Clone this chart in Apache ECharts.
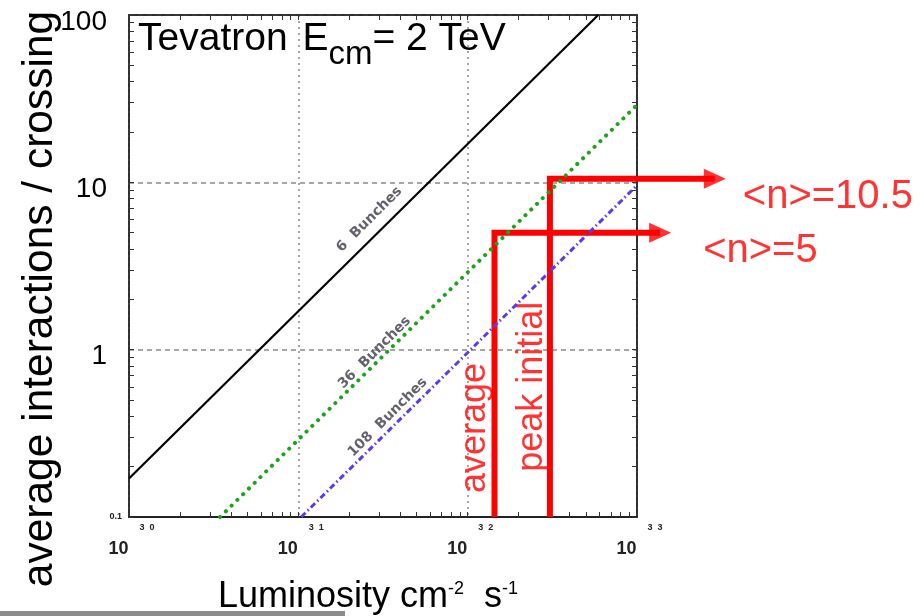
<!DOCTYPE html>
<html>
<head>
<meta charset="utf-8">
<script src="https://cdn.jsdelivr.net/npm/echarts@6/dist/echarts.min.js"></script>
<style>
  html, body { margin: 0; padding: 0; background: #fff; }
  #chart { width: 921px; height: 616px; }
</style>
</head>
<body>
<div id="chart"></div>
<script>
// Mean number of interactions per bunch crossing vs. instantaneous luminosity (Tevatron, 2 TeV)

// Axis ranges and tick labels
const xRange = [1e30, 1e33];
const yRange = [0.1, 100];
const xExponentLabels = ['3  0', '3  1', '3  2', '3  3'];
const yTickLabels = ['0.1', '1', '10', '100'];
const xMinorTicks = [
  1e30, 2e30, 3e30, 4e30, 5e30, 6e30, 7e30, 8e30, 9e30,
  1e31, 2e31, 3e31, 4e31, 5e31, 6e31, 7e31, 8e31, 9e31,
  1e32, 2e32, 3e32, 4e32, 5e32, 6e32, 7e32, 8e32, 9e32, 1e33
];
const yMinorTicks = [
  0.1, 0.2, 0.3, 0.4, 0.5, 0.6, 0.7, 0.8, 0.9,
  1, 2, 3, 4, 5, 6, 7, 8, 9,
  10, 20, 30, 40, 50, 60, 70, 80, 90, 100
];

// Bunch configurations: [luminosity (cm^-2 s^-1), interactions per crossing]
const bunches6 = [[1e30, 0.17], [5.9e32, 100]];
const bunches36 = [[3.45e30, 0.1], [1e33, 29]];
const bunches108 = [[1.04e31, 0.1], [1e33, 9.6]];
const bunchLabels = [
  [2.63e31, 6.0, '6  Bunches'],
  [2.82e31, 0.96, '36  Bunches'],
  [3.37e31, 0.394, '108  Bunches']
];

// Run II operating points: [luminosity, <n>, arrow end]
const averagePoint = [1.44e32, 5, 1.37e33];
const peakPoint = [3.06e32, 10.5, 2.88e33];
const operatingLabels = [
  [1.10e32, 0.34, 'average'],
  [2.39e32, 0.60, 'peak initial']
];

const FONT = '"Liberation Sans", Arial, Helvetica, sans-serif';
const RED = '#ff0000';

const chart = echarts.init(document.getElementById('chart'), null, { renderer: 'canvas' });

// Decade exponent of a tick value, used to pick its label
const decade = v => Math.round(Math.log10(v));

function tickAxis(position, values, range) {
  return {
    type: 'log', logBase: 10, min: range[0], max: range[1], position: position,
    axisLine: { show: true, lineStyle: { color: '#222', width: 1.5 } },
    axisTick: { show: true, inside: true, length: 5, customValues: values, lineStyle: { color: '#333', width: 1 } },
    axisLabel: { show: false },
    splitLine: { show: false }
  };
}

// L-shaped red marker: vertical line from the bottom of the plot up to <n>, then right to the arrow
function renderOperatingLine(params, api) {
  const lumi = api.value(0), n = api.value(1), end = api.value(2);
  const p0 = api.coord([lumi, yRange[0]]);
  const p1 = api.coord([lumi, n]);
  const p2 = api.coord([end, n]);
  return {
    type: 'polyline',
    shape: { points: [p0, p1, p2] },
    style: { stroke: RED, lineWidth: 6, fill: null, lineJoin: 'miter' },
    silent: true
  };
}

const option = {
  animation: false,
  backgroundColor: '#fff',
  grid: {
    left: 129, right: 284, top: 15, bottom: 99,
    outerBoundsMode: 'none',
    show: true, borderColor: '#222', borderWidth: 1.5, backgroundColor: 'transparent'
  },
  title: {
    left: 138, top: 20, padding: 0,
    text: '{a|Tevatron }{e|E}{s|cm}{a|= 2 TeV}',
    textStyle: {
      fontWeight: 'normal',
      rich: {
        a: { fontFamily: FONT, fontSize: 39, fontWeight: 'normal', color: '#000', lineHeight: 44, verticalAlign: 'top' },
        e: { fontFamily: FONT, fontSize: 39, fontWeight: 'normal', color: '#000', lineHeight: 44, verticalAlign: 'top', padding: [0, 0, 0, 4] },
        s: { fontFamily: FONT, fontSize: 33, fontWeight: 'normal', color: '#000', lineHeight: 33, verticalAlign: 'top', padding: [18, 0, 0, 0] }
      }
    }
  },
  xAxis: [
    {
      type: 'log', logBase: 10, min: xRange[0], max: xRange[1], position: 'bottom',
      axisLine: { show: true, lineStyle: { color: '#222', width: 2 } },
      axisTick: { show: false },
      axisLabel: {
        margin: 6,
        formatter: v => '{b|10}{e|' + xExponentLabels[decade(v) - decade(xRange[0])] + '}',
        rich: {
          b: { fontFamily: FONT, fontSize: 18, fontWeight: 'bold', color: '#222', lineHeight: 20, padding: [33, 0, 0, 5] },
          e: { fontFamily: FONT, fontSize: 9, fontWeight: 'bold', color: '#222', lineHeight: 9, verticalAlign: 'top', padding: [0, 0, 0, 11] }
        }
      },
      splitLine: { show: true, lineStyle: { color: '#8a8a8a', width: 1.5, type: [2, 4] } },
      name: '{a|Luminosity cm}{s|-2}{a|  s}{s|-1}',
      nameLocation: 'middle',
      nameGap: 60,
      nameTextStyle: {
        padding: [0, 30, 0, 0],
        rich: {
          a: { fontFamily: FONT, fontSize: 36, color: '#000', lineHeight: 40 },
          s: { fontFamily: FONT, fontSize: 18, color: '#000', lineHeight: 18, padding: [0, 0, 16, 0] }
        }
      }
    },
    tickAxis('top', xMinorTicks, xRange),
    Object.assign(tickAxis('bottom', xMinorTicks, xRange), { axisLine: { show: false } })
  ],
  yAxis: [
    {
      type: 'log', logBase: 10, min: yRange[0], max: yRange[1], position: 'left',
      axisLine: { show: true, lineStyle: { color: '#222', width: 1.5 } },
      axisTick: { show: false },
      axisLabel: {
        margin: 7,
        formatter: v => {
          const label = yTickLabels[decade(v) - decade(yRange[0])];
          return (label === yTickLabels[0] ? '{s|' : '{l|') + label + '}';
        },
        rich: {
          l: { fontFamily: FONT, fontSize: 28, color: '#000', padding: [14, 15, 0, 0] },
          s: { fontFamily: FONT, fontSize: 9, fontWeight: 'bold', color: '#222' }
        }
      },
      splitLine: { show: true, lineStyle: { color: '#8a8a8a', width: 1.5, type: [5, 4] } },
      name: 'average interactions / crossing',
      nameLocation: 'middle',
      nameGap: 67,
      nameMoveOverlap: false,
      nameTextStyle: { fontFamily: FONT, fontSize: 42.5, color: '#000', padding: [0, 66, 0, 0] }
    },
    tickAxis('right', yMinorTicks, yRange),
    Object.assign(tickAxis('left', yMinorTicks, yRange), { axisLine: { show: false } })
  ],
  series: [
    {
      name: '6 Bunches', type: 'line', data: bunches6, symbol: 'none',
      lineStyle: { color: '#000', width: 2.2 }
    },
    {
      name: '36 Bunches', type: 'line', data: bunches36, symbol: 'none',
      lineStyle: { color: '#1fa31f', width: 4, type: [0.1, 8], cap: 'round' }
    },
    {
      name: '108 Bunches', type: 'line', data: bunches108, symbol: 'none',
      lineStyle: { color: '#5a3cf0', width: 3, type: [6, 3, 1.5, 3] }
    },
    {
      name: 'bunch labels', type: 'scatter', data: bunchLabels,
      symbolSize: 1, itemStyle: { color: 'transparent' }, silent: true,
      label: {
        show: true, position: 'inside', rotate: 45,
        formatter: p => p.value[2],
        fontFamily: '"DejaVu Sans", sans-serif', fontWeight: 'bold', fontSize: 14, color: '#3c3c48'
      }
    },
    {
      name: 'operating points', type: 'custom', clip: false,
      data: [averagePoint, peakPoint],
      renderItem: renderOperatingLine
    },
    {
      name: 'arrow heads', type: 'scatter', clip: false,
      data: [
        { value: [averagePoint[2], averagePoint[1]], label: { distance: 32 } },
        { value: [peakPoint[2], peakPoint[1]], label: { distance: 17 } }
      ],
      symbol: 'triangle', symbolRotate: -90, symbolSize: [20, 22],
      itemStyle: { color: RED },
      label: {
        show: true, position: 'right', offset: [0, 18],
        formatter: p => '<n>=' + p.value[1],
        fontFamily: FONT, fontSize: 40, color: RED
      }
    },
    {
      name: 'operating labels', type: 'scatter', data: operatingLabels,
      symbolSize: 1, itemStyle: { color: 'transparent' }, silent: true,
      label: {
        show: true, position: 'inside', rotate: 90,
        formatter: p => p.value[2],
        fontFamily: FONT, fontSize: 36, color: RED
      }
    }
  ],
  graphic: [
    { type: 'rect', left: 0, bottom: 0, shape: { width: 345, height: 5 }, style: { fill: '#8c8c8c' }, silent: true }
  ]
};

chart.setOption(option);
</script>
</body>
</html>
